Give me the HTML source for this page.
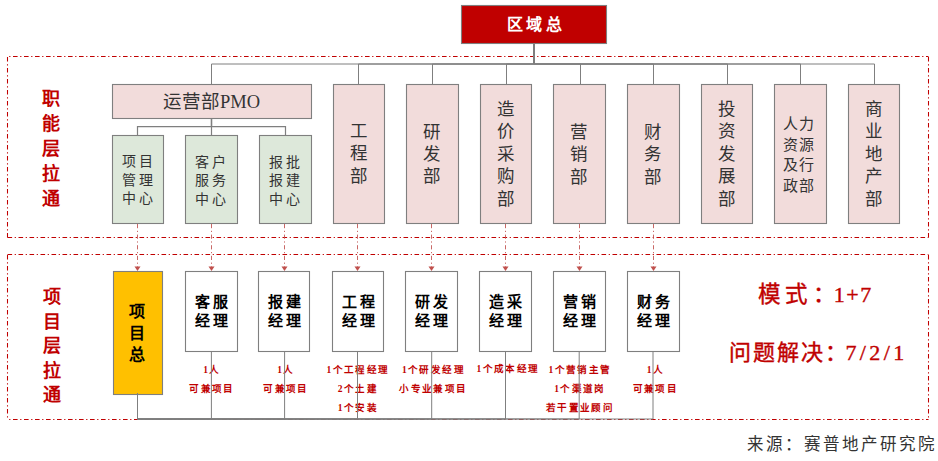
<!DOCTYPE html>
<html lang="zh-CN"><head><meta charset="utf-8">
<style>
html,body{margin:0;padding:0;background:#fff;}
body{width:938px;height:461px;position:relative;overflow:hidden;font-family:"Liberation Serif",serif;}
.t{position:absolute;white-space:nowrap;text-align:center;transform:translate(-50%,-50%);}
</style></head><body>
<svg width="938" height="461" style="position:absolute;left:0;top:0"><line x1="7.5" y1="56.5" x2="928.5" y2="56.5" stroke="#C00000" stroke-width="1.05" stroke-dasharray="4.6 2.6 1.2 2.6" stroke-dashoffset="-5.5"/><line x1="7.5" y1="237.5" x2="928.5" y2="237.5" stroke="#C00000" stroke-width="1.05" stroke-dasharray="4.6 2.6 1.2 2.6" stroke-dashoffset="0"/><line x1="7.5" y1="56.5" x2="7.5" y2="237.5" stroke="#C00000" stroke-width="1.05" stroke-dasharray="4.6 2.6 1.2 2.6" stroke-dashoffset="-0.5"/><line x1="928.5" y1="56.5" x2="928.5" y2="237.5" stroke="#C00000" stroke-width="1.05" stroke-dasharray="4.6 2.6 1.2 2.6" stroke-dashoffset="-0.5"/><line x1="7.5" y1="254.5" x2="928.5" y2="254.5" stroke="#C00000" stroke-width="1.05" stroke-dasharray="4.6 2.6 1.2 2.6" stroke-dashoffset="0"/><line x1="7.5" y1="419.5" x2="928.5" y2="419.5" stroke="#C00000" stroke-width="1.05" stroke-dasharray="4.6 2.6 1.2 2.6" stroke-dashoffset="-5.5"/><line x1="7.5" y1="254.5" x2="7.5" y2="419.5" stroke="#C00000" stroke-width="1.05" stroke-dasharray="4.6 2.6 1.2 2.6" stroke-dashoffset="-0.5"/><line x1="928.5" y1="254.5" x2="928.5" y2="419.5" stroke="#C00000" stroke-width="1.05" stroke-dasharray="4.6 2.6 1.2 2.6" stroke-dashoffset="-0.5"/><path d="M534,43 V64 H211.5 V84.5" fill="none" stroke="#7f7f7f" stroke-width="1"/><path d="M534,43 V64 H358.5 V84.5" fill="none" stroke="#7f7f7f" stroke-width="1"/><path d="M534,43 V64 H432.5 V84.5" fill="none" stroke="#7f7f7f" stroke-width="1"/><path d="M534,43 V64 H506.5 V84.5" fill="none" stroke="#7f7f7f" stroke-width="1"/><path d="M534,43 V64 H580.5 V84.5" fill="none" stroke="#7f7f7f" stroke-width="1"/><path d="M534,43 V64 H653.5 V84.5" fill="none" stroke="#7f7f7f" stroke-width="1"/><path d="M534,43 V64 H727.5 V84.5" fill="none" stroke="#7f7f7f" stroke-width="1"/><path d="M534,43 V64 H800.5 V84.5" fill="none" stroke="#7f7f7f" stroke-width="1"/><path d="M534,43 V64 H874.5 V84.5" fill="none" stroke="#7f7f7f" stroke-width="1"/><path d="M211.5,118.5 V126.6 H137.5 V135.5" fill="none" stroke="#7f7f7f" stroke-width="1.2"/><path d="M211.5,118.5 V126.6 H211.5 V135.5" fill="none" stroke="#7f7f7f" stroke-width="1.2"/><path d="M211.5,118.5 V126.6 H285.5 V135.5" fill="none" stroke="#7f7f7f" stroke-width="1.2"/><rect x="461.5" y="5.5" width="145" height="38" fill="#C00000" stroke="#7f7f7f" stroke-width="1.1"/><rect x="112.5" y="84.5" width="199" height="34" fill="#F2DCDB" stroke="#7f7f7f" stroke-width="1.1"/><rect x="112.5" y="135.5" width="51" height="88" fill="#DDE8DA" stroke="#7f7f7f" stroke-width="1.1"/><rect x="185.5" y="135.5" width="52" height="88" fill="#DDE8DA" stroke="#7f7f7f" stroke-width="1.1"/><rect x="259.5" y="135.5" width="52" height="88" fill="#DDE8DA" stroke="#7f7f7f" stroke-width="1.1"/><rect x="333.5" y="84.5" width="51" height="139" fill="#F2DCDB" stroke="#7f7f7f" stroke-width="1.1"/><rect x="406.5" y="84.5" width="52" height="139" fill="#F2DCDB" stroke="#7f7f7f" stroke-width="1.1"/><rect x="480.5" y="84.5" width="51" height="139" fill="#F2DCDB" stroke="#7f7f7f" stroke-width="1.1"/><rect x="553.5" y="84.5" width="52" height="139" fill="#F2DCDB" stroke="#7f7f7f" stroke-width="1.1"/><rect x="627.5" y="84.5" width="52" height="139" fill="#F2DCDB" stroke="#7f7f7f" stroke-width="1.1"/><rect x="701.5" y="84.5" width="51" height="139" fill="#F2DCDB" stroke="#7f7f7f" stroke-width="1.1"/><rect x="774.5" y="84.5" width="52" height="139" fill="#F2DCDB" stroke="#7f7f7f" stroke-width="1.1"/><rect x="848.5" y="84.5" width="51" height="139" fill="#F2DCDB" stroke="#7f7f7f" stroke-width="1.1"/><rect x="113.5" y="271.5" width="49" height="123" fill="#FFC000" stroke="#7f7f7f" stroke-width="1.1"/><rect x="185.5" y="271.5" width="52" height="80" fill="#FFFFFF" stroke="#7f7f7f" stroke-width="1.1"/><rect x="258.5" y="271.5" width="51" height="80" fill="#FFFFFF" stroke="#7f7f7f" stroke-width="1.1"/><rect x="332.5" y="271.5" width="51" height="80" fill="#FFFFFF" stroke="#7f7f7f" stroke-width="1.1"/><rect x="405.5" y="271.5" width="52" height="80" fill="#FFFFFF" stroke="#7f7f7f" stroke-width="1.1"/><rect x="479.5" y="271.5" width="52" height="80" fill="#FFFFFF" stroke="#7f7f7f" stroke-width="1.1"/><rect x="553.5" y="271.5" width="52" height="80" fill="#FFFFFF" stroke="#7f7f7f" stroke-width="1.1"/><rect x="627.5" y="271.5" width="52" height="80" fill="#FFFFFF" stroke="#7f7f7f" stroke-width="1.1"/><line x1="137.5" y1="224" x2="137.5" y2="267" stroke="#C0504D" stroke-width="1" opacity="0.85" stroke-dasharray="4.2 2.6 1.2 2.6"/><path d="M134.5,266.5 L140.5,266.5 L137.5,271 Z" fill="#C0504D"/><line x1="211.5" y1="224" x2="211.5" y2="267" stroke="#C0504D" stroke-width="1" opacity="0.85" stroke-dasharray="4.2 2.6 1.2 2.6"/><path d="M208.5,266.5 L214.5,266.5 L211.5,271 Z" fill="#C0504D"/><line x1="284.5" y1="224" x2="284.5" y2="267" stroke="#C0504D" stroke-width="1" opacity="0.85" stroke-dasharray="4.2 2.6 1.2 2.6"/><path d="M281.5,266.5 L287.5,266.5 L284.5,271 Z" fill="#C0504D"/><line x1="357.5" y1="224" x2="357.5" y2="267" stroke="#C0504D" stroke-width="1" opacity="0.85" stroke-dasharray="4.2 2.6 1.2 2.6"/><path d="M354.5,266.5 L360.5,266.5 L357.5,271 Z" fill="#C0504D"/><line x1="431.5" y1="224" x2="431.5" y2="267" stroke="#C0504D" stroke-width="1" opacity="0.85" stroke-dasharray="4.2 2.6 1.2 2.6"/><path d="M428.5,266.5 L434.5,266.5 L431.5,271 Z" fill="#C0504D"/><line x1="505.5" y1="224" x2="505.5" y2="267" stroke="#C0504D" stroke-width="1" opacity="0.85" stroke-dasharray="4.2 2.6 1.2 2.6"/><path d="M502.5,266.5 L508.5,266.5 L505.5,271 Z" fill="#C0504D"/><line x1="579.5" y1="224" x2="579.5" y2="267" stroke="#C0504D" stroke-width="1" opacity="0.85" stroke-dasharray="4.2 2.6 1.2 2.6"/><path d="M576.5,266.5 L582.5,266.5 L579.5,271 Z" fill="#C0504D"/><line x1="653.5" y1="224" x2="653.5" y2="267" stroke="#C0504D" stroke-width="1" opacity="0.85" stroke-dasharray="4.2 2.6 1.2 2.6"/><path d="M650.5,266.5 L656.5,266.5 L653.5,271 Z" fill="#C0504D"/></svg>
<div id="t0" class="t" style="left:536.15px;top:25.40px;font-size:16px;line-height:22px;letter-spacing:3.5px;color:#fff;font-weight:bold;">区域总</div><div id="t1" class="t" style="left:51.00px;top:148.50px;font-size:18px;line-height:25px;letter-spacing:0px;color:#C00000;font-weight:bold;">职<br>能<br>层<br>拉<br>通</div><div id="t2" class="t" style="left:52.00px;top:346.00px;font-size:18px;line-height:24.5px;letter-spacing:0px;color:#C00000;font-weight:bold;">项<br>目<br>层<br>拉<br>通</div><div id="t3" class="t" style="left:211.50px;top:102.00px;font-size:18.5px;line-height:24px;letter-spacing:0px;color:#333;">运营部<span style="font-size:18.5px;letter-spacing:0px">PMO</span></div><div id="t4" class="t" style="left:138.50px;top:181.00px;font-size:14px;line-height:18.5px;letter-spacing:2.5px;color:#333;">项目<br>管理<br>中心</div><div id="t5" class="t" style="left:211.50px;top:181.50px;font-size:14px;line-height:18.5px;letter-spacing:2.5px;color:#333;">客户<br>服务<br>中心</div><div id="t6" class="t" style="left:285.50px;top:181.50px;font-size:14px;line-height:18.5px;letter-spacing:2.5px;color:#333;">报批<br>报建<br>中心</div><div id="t7" class="t" style="left:358.50px;top:154.00px;font-size:17.5px;line-height:22.4px;letter-spacing:0px;color:#333;">工<br>程<br>部</div><div id="t8" class="t" style="left:431.50px;top:154.50px;font-size:17.5px;line-height:22.4px;letter-spacing:0px;color:#333;">研<br>发<br>部</div><div id="t9" class="t" style="left:505.50px;top:154.00px;font-size:17.5px;line-height:22.4px;letter-spacing:0px;color:#333;">造<br>价<br>采<br>购<br>部</div><div id="t10" class="t" style="left:578.50px;top:155.00px;font-size:17.5px;line-height:22.4px;letter-spacing:0px;color:#333;">营<br>销<br>部</div><div id="t11" class="t" style="left:652.50px;top:155.00px;font-size:17.5px;line-height:22.4px;letter-spacing:0px;color:#333;">财<br>务<br>部</div><div id="t12" class="t" style="left:726.50px;top:154.00px;font-size:17.5px;line-height:22.4px;letter-spacing:0px;color:#333;">投<br>资<br>发<br>展<br>部</div><div id="t13" class="t" style="left:873.50px;top:154.00px;font-size:17.5px;line-height:22.4px;letter-spacing:0px;color:#333;">商<br>业<br>地<br>产<br>部</div><div id="t14" class="t" style="left:799.50px;top:155.00px;font-size:15px;line-height:20.5px;letter-spacing:1.2px;color:#333;">人力<br>资源<br>及行<br>政部</div><div id="t15" class="t" style="left:137.00px;top:333.00px;font-size:16px;line-height:21.5px;letter-spacing:0px;color:#000;font-weight:bold;">项<br>目<br>总</div><div id="t16" class="t" style="left:212.50px;top:311.50px;font-size:15px;line-height:19.3px;letter-spacing:2.5px;color:#000;font-weight:bold;">客服<br>经理</div><div id="t17" class="t" style="left:285.50px;top:312.00px;font-size:15px;line-height:19.3px;letter-spacing:2.5px;color:#000;font-weight:bold;">报建<br>经理</div><div id="t18" class="t" style="left:359.50px;top:311.50px;font-size:15px;line-height:19.3px;letter-spacing:2.5px;color:#000;font-weight:bold;">工程<br>经理</div><div id="t19" class="t" style="left:432.50px;top:311.50px;font-size:15px;line-height:19.3px;letter-spacing:2.5px;color:#000;font-weight:bold;">研发<br>经理</div><div id="t20" class="t" style="left:506.50px;top:312.00px;font-size:15px;line-height:19.3px;letter-spacing:2.5px;color:#000;font-weight:bold;">造采<br>经理</div><div id="t21" class="t" style="left:580.50px;top:311.50px;font-size:15px;line-height:19.3px;letter-spacing:2.5px;color:#000;font-weight:bold;">营销<br>经理</div><div id="t22" class="t" style="left:654.50px;top:311.50px;font-size:15px;line-height:19.3px;letter-spacing:2.5px;color:#000;font-weight:bold;">财务<br>经理</div><div id="t23" class="t" style="left:212.00px;top:380.00px;font-size:9.5px;line-height:19.4px;letter-spacing:1.4px;color:#C00000;font-weight:bold;">1人<br>可兼项目</div><div id="t24" class="t" style="left:286.00px;top:380.00px;font-size:9.5px;line-height:19.4px;letter-spacing:1.4px;color:#C00000;font-weight:bold;">1人<br>可兼项目</div><div id="t25" class="t" style="left:358.00px;top:389.50px;font-size:9.5px;line-height:19.4px;letter-spacing:1.4px;color:#C00000;font-weight:bold;">1个工程经理<br>2个土建<br>1个安装</div><div id="t26" class="t" style="left:433.50px;top:380.00px;font-size:9.5px;line-height:19.4px;letter-spacing:1.4px;color:#C00000;font-weight:bold;">1个研发经理<br>小专业兼项目</div><div id="t27" class="t" style="left:508.00px;top:370.00px;font-size:9.5px;line-height:19.4px;letter-spacing:1.4px;color:#C00000;font-weight:bold;">1个成本经理</div><div id="t28" class="t" style="left:580.00px;top:389.50px;font-size:9.5px;line-height:19.4px;letter-spacing:1.4px;color:#C00000;font-weight:bold;">1个营销主管<br>1个渠道岗<br>若干置业顾问</div><div id="t29" class="t" style="left:655.50px;top:380.00px;font-size:9.5px;line-height:19.4px;letter-spacing:1.4px;color:#C00000;font-weight:bold;">1人<br>可兼项目</div><div id="t30" class="t" style="left:815.50px;top:295.00px;font-size:21px;line-height:26px;letter-spacing:0px;color:#C00000;-webkit-text-stroke:0.4px #C00000;"><span style="font-size:22.5px;letter-spacing:4.2px">模式：</span><span style="font-size:22px;letter-spacing:1.5px;margin-left:-6px">1+7</span></div><div id="t31" class="t" style="left:818.50px;top:353.00px;font-size:21px;line-height:26px;letter-spacing:0px;color:#C00000;-webkit-text-stroke:0.4px #C00000;"><span style="font-size:22px;letter-spacing:2px">问题解决：</span><span style="font-size:22px;letter-spacing:3.4px;margin-left:-4px">7/2/1</span></div><div id="t32" class="t" style="left:842.00px;top:444.50px;font-size:16.5px;line-height:22px;letter-spacing:2px;color:#333;">来源：赛普地产研究院</div>
<svg width="938" height="461" style="position:absolute;left:0;top:0"><path d="M137.5,393.4 V419 H211.4 V351" fill="none" stroke="#7f7f7f" stroke-width="1"/><path d="M137.5,393.4 V419 H284.6 V351" fill="none" stroke="#7f7f7f" stroke-width="1"/><path d="M137.5,393.4 V419 H357.5 V351" fill="none" stroke="#7f7f7f" stroke-width="1"/><path d="M137.5,393.4 V419 H431.7 V351" fill="none" stroke="#7f7f7f" stroke-width="1"/><path d="M137.5,393.4 V419 H505.5 V351" fill="none" stroke="#7f7f7f" stroke-width="1"/><path d="M137.5,393.4 V419 H579.2 V351" fill="none" stroke="#7f7f7f" stroke-width="1"/><path d="M137.5,393.4 V419 H653 V351" fill="none" stroke="#7f7f7f" stroke-width="1"/></svg>
</body></html>
